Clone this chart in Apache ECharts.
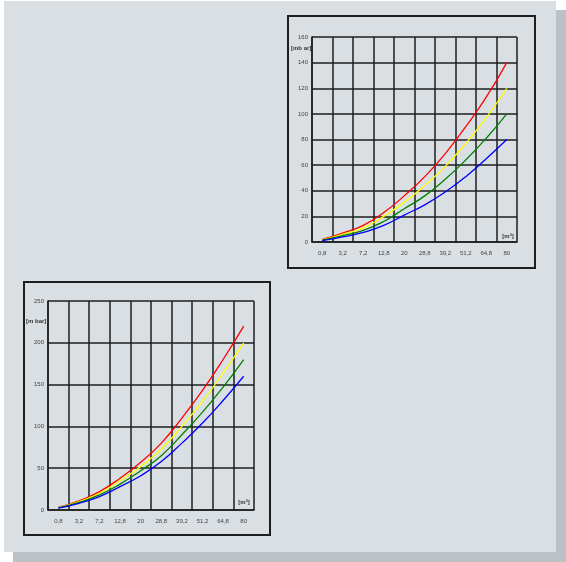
<!DOCTYPE html>
<html>
<head>
<meta charset="utf-8">
<script src="https://cdn.jsdelivr.net/npm/echarts@6/dist/echarts.min.js"></script>
<style>
    html, body { margin: 0; padding: 0; background: #fff; }
    #chart { width: 566px; height: 562px; }
</style>
</head>
<body>
<div id="chart"></div>
<script>
// flow categories (shared by both charts)
const flowLabels = ['0,8', '3,2', '7,2', '12,8', '20', '28,8', '39,2', '51,2', '64,8', '80'];

// upper chart, 0..160 mbar
const topRed    = [2, 7, 13, 23, 36, 51, 69, 90, 113, 140];
const topYellow = [1.7, 6, 11, 20, 31, 44, 59, 77, 97, 120];
const topGreen  = [1.4, 5, 9, 16, 26, 36, 49, 64, 81, 100];
const topBlue   = [1.1, 4, 7.5, 13, 21, 29, 39, 51, 65, 80];

// lower chart, 0..250 mbar
const lowRed    = [3, 11, 22, 38, 57, 80, 110, 143, 180, 220];
const lowYellow = [2.7, 10, 20, 35, 52, 73, 100, 130, 164, 200];
const lowGreen  = [2.5, 9, 18, 31, 47, 65, 90, 117, 147, 180];
const lowBlue   = [2.2, 8, 16, 28, 41, 58, 80, 104, 131, 160];

const lineColors = ['#ff0000', '#ffff00', '#008000', '#0000ff'];
const gridColor = '#1e1e1e';
const labelColor = '#444';
const fontFamily = '"Liberation Sans", Arial, sans-serif';

const chart = echarts.init(document.getElementById('chart'), null, { renderer: 'canvas' });

function makeX(gridIndex) {
    return {
        type: 'category',
        gridIndex: gridIndex,
        data: flowLabels,
        boundaryGap: true,
        axisLine: { lineStyle: { color: gridColor, width: 1.5 } },
        axisTick: { show: false },
        axisLabel: { color: labelColor, fontSize: 6, fontFamily: fontFamily, margin: 8, interval: 0 },
        splitLine: { show: true, interval: 0, lineStyle: { color: gridColor, width: 1.5 } }
    };
}

function makeY(gridIndex, max, step) {
    return {
        type: 'value',
        gridIndex: gridIndex,
        min: 0,
        max: max,
        interval: step,
        axisLine: { show: true, lineStyle: { color: gridColor, width: 1.5 } },
        axisTick: { show: false },
        axisLabel: { color: labelColor, fontSize: 6, fontFamily: fontFamily, margin: 4 },
        splitLine: { show: true, lineStyle: { color: gridColor, width: 1.5 } }
    };
}

function makeLine(data, color, idx) {
    return {
        type: 'line',
        xAxisIndex: idx,
        yAxisIndex: idx,
        data: data,
        smooth: true,
        showSymbol: false,
        silent: true,
        lineStyle: { color: color, width: 1.3 },
        z: 5
    };
}

function unitText(x, y, text, align) {
    return {
        type: 'text',
        x: x,
        y: y,
        z: 10,
        style: {
            text: text,
            fill: '#333',
            font: 'bold 6px ' + fontFamily,
            align: align,
            verticalAlign: 'middle'
        }
    };
}

const option = {
    backgroundColor: '#ffffff',
    animation: false,
    textStyle: { fontFamily: fontFamily },
    grid: [
        { left: 312, top: 37, width: 205, height: 205 },
        { left: 48, top: 301, width: 206, height: 209 }
    ],
    xAxis: [makeX(0), makeX(1)],
    yAxis: [makeY(0, 160, 20), makeY(1, 250, 50)],
    graphic: [
        // panel shadow and panel
        { type: 'rect', z: -10, shape: { x: 13, y: 10, width: 553, height: 552 }, style: { fill: '#bcc1c5' } },
        { type: 'rect', z: -9, shape: { x: 4, y: 1, width: 552, height: 551 }, style: { fill: '#dadfe3' } },
        // chart frames
        { type: 'rect', z: -8, shape: { x: 288, y: 16, width: 247, height: 252 }, style: { fill: '#dadfe3', stroke: '#1e1e1e', lineWidth: 2 } },
        { type: 'rect', z: -8, shape: { x: 24, y: 282, width: 246, height: 253 }, style: { fill: '#dadfe3', stroke: '#1e1e1e', lineWidth: 2 } },
        // unit labels
        unitText(291, 48, '[mb ar]', 'left'),
        unitText(508, 236, '[m³]', 'center'),
        unitText(26, 321, '[m bar]', 'left'),
        unitText(244, 502, '[m³]', 'center')
    ],
    series: [
        makeLine(topRed, lineColors[0], 0),
        makeLine(topYellow, lineColors[1], 0),
        makeLine(topGreen, lineColors[2], 0),
        makeLine(topBlue, lineColors[3], 0),
        makeLine(lowRed, lineColors[0], 1),
        makeLine(lowYellow, lineColors[1], 1),
        makeLine(lowGreen, lineColors[2], 1),
        makeLine(lowBlue, lineColors[3], 1)
    ]
};

chart.setOption(option);
</script>
</body>
</html>
